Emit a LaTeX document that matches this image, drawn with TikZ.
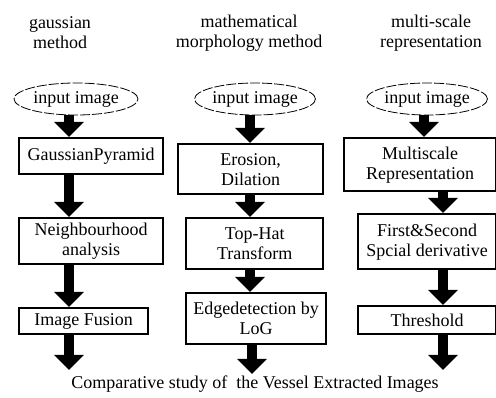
\documentclass[tikz,border=0pt]{standalone}
\usepackage{fontspec}
\setmainfont{Liberation Serif}
\usetikzlibrary{arrows.meta,shapes.geometric}
\begin{document}
\begin{tikzpicture}[x=1pt,y=-1pt,
  txt/.style={inner sep=0pt,align=center,font=\fontsize{18}{20}\selectfont},
  box/.style={draw,line width=2.4pt,anchor=north west,inner sep=0pt,align=center,font=\fontsize{18}{20}\selectfont},
  ell/.style={draw,ellipse,line width=0.8pt,dash pattern=on 10pt off 2pt,inner sep=0pt,minimum height=32pt,font=\fontsize{18}{20}\selectfont},
  bigarrow/.style={line width=10pt,-{Triangle[width=29pt,length=15pt]}}]
\useasboundingbox (0,0) rectangle (496,398);
% titles
\node[txt] (t1) at (60,33) {gaussian\\method};
\node[txt] (t2) at (249,33) {mathematical\\morphology method};
\node[txt] (t3) at (431,33) {multi-scale\\representation};
% inputs
\node[ell,minimum width=124pt] (e1) at (76,99) {input image};
\node[ell,minimum width=114pt] (e2) at (255,99) {input image};
\node[ell,minimum width=119pt] (e3) at (427,99) {input image};
% column 1
\node[box,minimum width=144pt,minimum height=36pt] (a1) at (18,137) {GaussianPyramid};
\node[box,minimum width=144pt,minimum height=46pt] (a2) at (18,217) {Neighbourhood\\analysis};
\node[box,minimum width=129pt,minimum height=26pt] (a3) at (18,307) {Image Fusion};
% column 2
\node[box,minimum width=145pt,minimum height=50pt] (b1) at (177,143) {Erosion,\\Dilation};
\node[box,minimum width=137pt,minimum height=51pt] (b2) at (185,217) {Top-Hat\\Transform};
\node[box,minimum width=140pt,minimum height=51pt] (b3) at (185,292) {Edgedetection by\\LoG};
% column 3
\node[box,minimum width=152pt,minimum height=53pt] (c1) at (343,137) {Multiscale\\Representation};
\node[box,minimum width=138pt,minimum height=55pt] (c2) at (357,213) {First\&Second\\Spcial derivative};
\node[box,minimum width=138pt,minimum height=28pt] (c3) at (357,305) {Threshold};
% bottom
\node[txt] (res) at (255,384) {Comparative study of\ \ the Vessel Extracted Images};
% arrow columns
\coordinate (xa) at (69,0);
\coordinate (xb) at (250,0);
\coordinate (xc) at (424,0);
\coordinate (xd) at (443,0);
\coordinate (ea) at (69,370);
\coordinate (eb) at (252,374);
\coordinate (ec) at (443,370);
\draw[bigarrow] (xa |- e1.south) -- (xa |- a1.north);
\draw[bigarrow] (xa |- a1.south) -- (xa |- a2.north);
\draw[bigarrow] (xa |- a2.south) -- (xa |- a3.north);
\draw[bigarrow] (xa |- a3.south) -- (ea);
\draw[bigarrow] (xb |- e2.south) -- (xb |- b1.north);
\draw[bigarrow] (xb |- b1.south) -- (xb |- b2.north);
\draw[bigarrow] (xb |- b2.south) -- (xb |- b3.north);
\draw[bigarrow] (eb |- b3.south) -- (eb);
\draw[bigarrow] (xc |- e3.south) -- (xc |- c1.north);
\draw[bigarrow] (xd |- c1.south) -- (xd |- c2.north);
\draw[bigarrow] (xd |- c2.south) -- (xd |- c3.north);
\draw[bigarrow] (ec |- c3.south) -- (ec);
\end{tikzpicture}
\end{document}
